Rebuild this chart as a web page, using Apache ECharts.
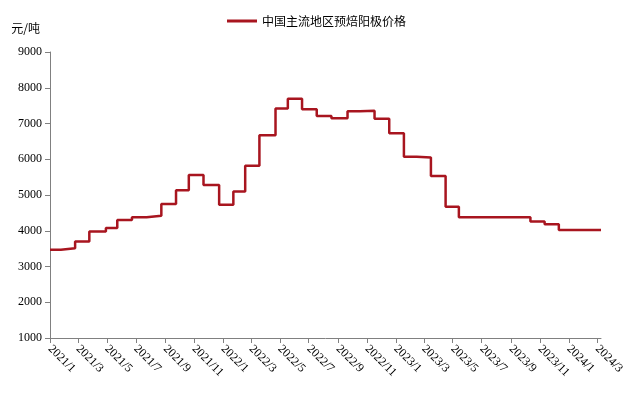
<!DOCTYPE html>
<html>
<head>
<meta charset="utf-8">
<script src="https://cdn.jsdelivr.net/npm/echarts@6/dist/echarts.min.js"></script>
<style>
  html, body { margin: 0; padding: 0; background: #fff; }
  #main { width: 633px; height: 399px; }
</style>
</head>
<body>
<div id="main"></div>
<script>
// 价格变动日期和对应价格（阶梯）
var changeDates = ['2021-01-01','2021-01-24','2021-02-23','2021-03-25','2021-04-29','2021-05-23',
    '2021-06-23','2021-07-24','2021-08-24','2021-09-24','2021-10-21','2021-11-21','2021-12-24',
    '2022-01-23','2022-02-17','2022-03-19','2022-04-22','2022-05-18','2022-06-17','2022-07-18',
    '2022-08-18','2022-09-21','2022-10-17','2022-11-17','2022-12-18','2023-01-18','2023-02-14',
    '2023-03-16','2023-04-16','2023-05-14','2023-10-12','2023-11-11','2023-12-11','2024-03-09'];
var prices = [3470,3510,3700,3980,4080,4300,4380,4420,4750,5130,
    5560,5280,4730,5100,5820,6670,7420,7690,7400,7210,
    7150,7340,7360,7130,6730,6070,6050,5530,4670,4375,
    4260,4180,4020,4020];
var seriesName = '中国主流地区预焙阳极价格';
var yTicks = {min: 1000, max: 9000, step: 1000};

var fontFam = '"Liberation Serif", "Times New Roman", "Noto Sans CJK SC", serif';

var lineData = [];
for (var i = 0; i < changeDates.length; i++) {
    lineData.push([changeDates[i], prices[i]]);
}

var chart = echarts.init(document.getElementById('main'));
var option = {
    animation: false,
    backgroundColor: '#fff',
    textStyle: { fontFamily: fontFam },
    legend: {
        top: 10,
        left: 'center',
        icon: 'rect',
        itemWidth: 30,
        itemHeight: 3,
        itemGap: 10,
        textStyle: { fontSize: 12, color: '#000', fontFamily: '"Noto Sans CJK SC", serif' },
        data: [seriesName]
    },
    grid: {
        left: 50,
        right: 32,
        top: 52,
        bottom: 61,
        outerBoundsMode: 'none'
    },
    xAxis: {
        type: 'time',
        min: changeDates[0],
        max: changeDates[changeDates.length - 1],
        maxInterval: 70 * 24 * 3600 * 1000,
        splitLine: { show: false },
        axisLine: { lineStyle: { color: '#808080', width: 1 } },
        axisTick: { show: true, length: 5, lineStyle: { color: '#808080' } },
        axisLabel: {
            rotate: -45,
            fontSize: 12,
            color: '#000',
            fontWeight: 'normal',
            margin: 9,
            formatter: function (val) {
                var d = new Date(val);
                return d.getFullYear() + '/' + (d.getMonth() + 1);
            }
        }
    },
    yAxis: {
        type: 'value',
        min: yTicks.min,
        max: yTicks.max,
        interval: yTicks.step,
        name: '元/吨',
        nameLocation: 'end',
        nameGap: 18,
        nameTextStyle: {
            fontSize: 12,
            color: '#000',
            align: 'right',
            padding: [0, 10, 0, 0],
            fontFamily: '"Noto Sans CJK SC", serif'
        },
        splitLine: { show: false },
        axisLine: { show: true, lineStyle: { color: '#808080', width: 1 } },
        axisTick: { show: true, length: 5, lineStyle: { color: '#808080' } },
        axisLabel: {
            fontSize: 12,
            color: '#000',
            margin: 8,
            formatter: function (v) { return String(v); }
        }
    },
    series: [{
        name: seriesName,
        type: 'line',
        step: 'end',
        symbol: 'none',
        data: lineData,
        itemStyle: { color: '#A8151F' },
        lineStyle: { color: '#A8151F', width: 2.5 }
    }]
};
chart.setOption(option);
</script>
</body>
</html>
